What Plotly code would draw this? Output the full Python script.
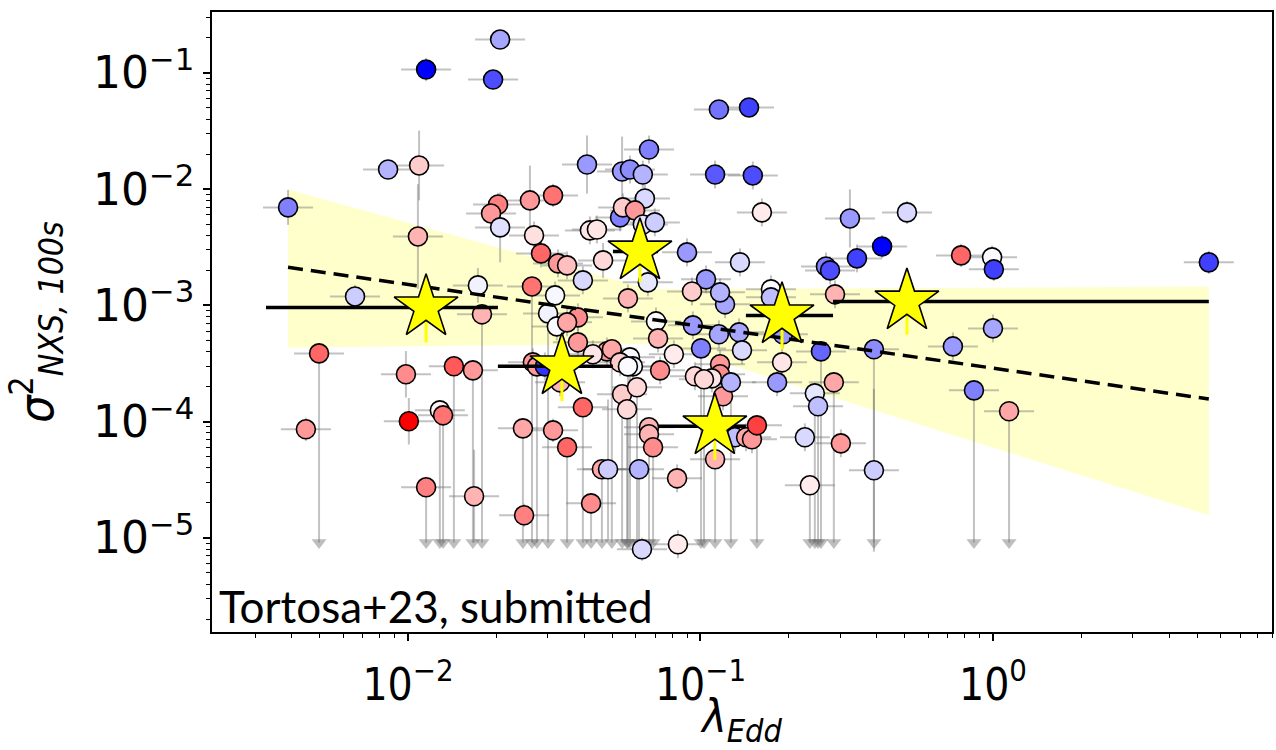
import numpy as np
import plotly.graph_objects as go

# ---- individual sources: log10(lambda_Edd), log10(sigma^2_NXS,100s) ----
log_edd = [
    -1.685, -1.938, -1.709, -2.068, -1.962, -2.410, -1.966, -1.692, -1.716, -1.685,
    -1.583, -1.504, -1.388, -1.569, -1.545, -1.487, -1.456, -1.402, -1.378, -1.354,
    -1.333, -1.268, -1.241, -1.197, -1.176, -1.190, -1.275, -1.265, -1.224, -1.197,
    -1.156, -1.761, -2.181, -1.576, -1.497, -1.248, -1.180, -1.521, -1.747, -1.419,
    -1.491, -1.456, -2.304, -2.349, -2.007, -1.997, -1.843, -1.778, -1.891, -1.880,
    -1.938, -1.774, -1.607, -1.504, -1.456, -1.603, -1.402, -1.337, -1.316, -1.210,
    -1.374, -1.200, -1.573, -1.559, -1.532, -1.480, -1.419, -1.320, -1.303, -1.368,
    -1.241, -1.231, -1.275, -1.268, -1.217, -1.251, -1.176, -1.176, -1.162, -1.248,
    -0.916, -0.933, -0.981, -1.029, -1.152, -1.026, -0.937, -0.868, -1.145, -0.998,
    -0.858, -1.091, -0.718, -0.721, -0.588, -0.407, -0.137, 0.000, -0.065, 0.055,
    -0.738, -0.544, -0.609, -0.598, -0.933, -0.933, -0.923, -0.961, -0.896, -1.019,
    -0.988, -1.138, -0.759, -0.759, -0.540, -0.950, -0.882, -0.844, -0.824, -0.807,
    -0.643, -0.520, -0.407, -0.626, -1.077, -1.080,
    -0.950, -0.821, -0.937, -0.834, -0.790, -0.489, -0.294, -0.379, -0.465, -0.571,
    -0.557, -1.046, -0.865, -0.109, -0.003, 0.003, 0.738,
]
log_nxs = [
    -0.713, -0.971, -1.057, -1.831, -1.796, -2.157, -2.407, -2.132, -2.209, -2.329,
    -2.097, -2.054, -1.788, -2.398, -2.553, -2.639, -2.656, -2.785, -2.355, -2.347,
    -2.613, -1.848, -1.831, -1.874, -1.659, -2.080, -2.243, -2.157, -2.183, -2.304,
    -2.286, -2.828, -2.923, -2.837, -2.914, -2.940, -2.802, -3.069, -3.077, -3.103,
    -3.181, -3.146, -3.413, -4.066, -3.593, -3.997, -3.524, -3.559, -3.903, -3.946,
    -4.565, -4.642, -4.058, -4.075, -4.221, -4.806, -3.877, -4.410, -4.410, -4.410,
    -4.703, -5.098, -3.490, -3.525, -3.525, -3.662, -3.318, -3.396, -3.378, -3.421,
    -3.447, -3.525, -3.490, -3.765, -3.705, -3.894, -4.049, -4.109, -4.221, -3.525,
    -2.991, -2.888, -2.776, -2.880, -3.138, -3.172, -3.249, -3.232, -3.284, -3.370,
    -3.387, -3.421, -3.249, -3.490, -3.396, -3.378, -3.353, -3.198, -3.731, -3.911,
    -3.662, -3.662, -3.757, -3.868, -3.507, -3.593, -3.782, -3.628, -3.662, -3.610,
    -3.636, -3.559, -2.862, -2.931, -2.905, -4.324, -4.135, -4.135, -4.152, -4.032,
    -4.135, -4.187, -4.419, -4.548, -5.055, -4.488,
    -1.874, -1.882, -1.315, -1.297, -2.200, -2.252, -2.200, -2.493, -2.596, -2.665,
    -2.699, -2.544, -2.630, -2.570, -2.587, -2.690, -2.630,
]
# colour-coding quantity (blue = -1, white = 0, red = +1)
colour = [
    -0.35, -1.00, -0.70, -0.30, 0.20, -0.50, 0.30, 0.50, 0.40, -0.12,
    0.40, 0.55, -0.40, 0.12, 0.60, 0.40, 0.25, -0.15, 0.10, 0.10,
    0.15, -0.40, -0.45, -0.30, -0.50, -0.15, -0.50, 0.20, 0.40, -0.10,
    -0.20, -0.05, -0.20, 0.55, -0.03, 0.30, -0.10, -0.05, 0.30, 0.45,
    -0.02, 0.35, 0.60, 0.40, 0.45, 1.00, 0.65, 0.40, 0.05, 0.55,
    0.50, 0.30, 0.35, 0.40, 0.60, 0.50, 0.60, 0.35, -0.20, -0.30,
    0.45, -0.15, 0.40, 0.40, -0.80, 0.30, 0.40, 0.40, 0.35, 0.10,
    -0.03, -0.03, 0.20, 0.20, 0.15, 0.15, 0.30, 0.30, 0.45, -0.02,
    -0.35, -0.30, -0.40, 0.20, -0.02, -0.40, -0.35, -0.35, 0.30, -0.50,
    -0.15, 0.08, -0.40, 0.10, -0.60, -0.45, -0.40, -0.35, -0.50, 0.35,
    -0.40, 0.35, -0.10, -0.25, 0.40, 0.45, 0.40, 0.10, -0.30, 0.15,
    0.15, 0.45, -0.02, -0.25, 0.30, 0.30, -0.25, 0.35, 0.40, 0.75,
    -0.15, 0.40, -0.20, 0.08, 0.08, 0.30,
    -0.65, -0.70, -0.55, -0.75, 0.08, -0.40, -0.15, -1.00, -0.75, -0.50,
    -0.70, -0.40, -0.15, 0.60, -0.02, -0.75, -0.75,
]
# symmetric uncertainty on log10(sigma^2), dex
nxs_err_dex = [
    0.06, 0.10, 0.05, 0.05, 0.30, 0.15, 0.45, 0.10, 0.10, 0.30,
    0.30, 0.10, 0.25, 0.12, 0.12, 0.12, 0.12, 0.12, 0.12, 0.12,
    0.15, 0.30, 0.12, 0.12, 0.12, 0.12, 0.12, 0.12, 0.12, 0.12,
    0.12, 0.15, 0.10, 0.10, 0.12, 0.12, 0.12, 0.10, 0.10, 0.12,
    0.12, 0.12, 0.10, 0.10, 0.20, 0.20, 0.10, 0.10, 0.10, 0.10,
    0.10, 0.40, 0.10, 0.10, 0.10, 0.10, 0.10, 0.10, 0.60, 0.10,
    0.10, 0.10, 0.12, 0.12, 0.12, 0.12, 0.12, 0.12, 0.12, 0.12,
    0.12, 0.12, 0.12, 0.12, 0.12, 0.12, 0.12, 0.12, 0.12, 0.12,
    0.12, 0.12, 0.12, 0.12, 0.12, 0.12, 0.12, 0.12, 0.12, 0.12,
    0.12, 0.12, 0.12, 0.12, 0.12, 0.12, 0.12, 0.12, 0.12, 0.12,
    0.12, 0.12, 0.12, 0.12, 0.12, 0.12, 0.12, 0.12, 0.12, 0.12,
    0.12, 0.12, 0.12, 0.12, 0.12, 0.12, 0.12, 0.12, 0.12, 0.12,
    0.12, 0.12, 0.70, 0.12, 0.12, 0.12,
    0.12, 0.12, 0.05, 0.05, 0.12, 0.25, 0.10, 0.10, 0.12, 0.12,
    0.12, 0.12, 0.12, 0.10, 0.10, 0.10, 0.10,
]
# 1 = upper limit (arrow down to the floor)
upper_limit = [
    0, 0, 0, 0, 0, 0, 0, 0, 0, 0,
    0, 0, 0, 0, 0, 0, 0, 0, 0, 0,
    0, 0, 0, 0, 0, 0, 0, 0, 0, 0,
    0, 0, 0, 1, 0, 0, 0, 1, 1, 0,
    0, 0, 1, 0, 0, 0, 1, 1, 1, 1,
    1, 0, 1, 0, 1, 0, 1, 1, 0, 1,
    1, 0, 0, 1, 0, 0, 0, 0, 1, 0,
    1, 0, 0, 1, 1, 1, 1, 0, 1, 1,
    0, 0, 0, 0, 0, 0, 0, 0, 0, 1,
    0, 0, 0, 0, 1, 1, 0, 0, 1, 1,
    0, 1, 1, 1, 0, 0, 0, 0, 1, 0,
    1, 0, 0, 0, 0, 1, 0, 0, 0, 1,
    0, 0, 0, 1, 0, 0,
    0, 0, 0, 0, 0, 0, 0, 0, 0, 0,
    0, 0, 0, 0, 0, 0, 0,
]

# ---- binned means ----
star_edd = [0.01153, 0.0336, 0.0621, 0.112, 0.190, 0.508]
star_nxs = [9.6e-4, 2.99e-4, 2.91e-3, 9.1e-5, 8.2e-4, 1.08e-3]
star_nxs_err = [4.8e-4, 1.49e-4, 1.33e-3, 4.4e-5, 4.0e-4, 5.2e-4]
bin_lo = [0.00327, 0.0203, 0.0502, 0.0716, 0.143, 0.284]
bin_hi = [0.0203, 0.0502, 0.0716, 0.143, 0.284, 5.47]

# ---- power-law fit and its uncertainty envelope ----
fit_slope = -0.36
fit_norm = -3.54          # log10 sigma^2 at lambda_Edd = 1
fit_edd = [0.00389, 5.47]
band_edd = [0.00389, 0.0673, 5.47, 5.47, 0.0741, 0.00389]
band_nxs = [9.93e-3, 1.374e-3, 1.456e-3, 1.563e-5, 4.68e-4, 4.32e-4]

LIMIT_FLOOR = 9.1e-6      # where upper-limit arrows end
X_ERR_DEX = 0.0855        # half-width of the lambda_Edd error bars

x = 10 ** np.array(log_edd)
y = 10 ** np.array(log_nxs)
e = np.array(nxs_err_dex)
ul = np.array(upper_limit, dtype=bool)

x_plus = x * (10 ** X_ERR_DEX - 1)
x_minus = x * (1 - 10 ** -X_ERR_DEX)
y_plus = np.where(ul, 0.0, y * (10 ** e - 1))
y_minus = np.where(ul, y - LIMIT_FLOOR, y * (1 - 10 ** -e))

ERR_GREY = "rgba(110,110,110,0.42)"
bwr = [[0.0, "rgb(0,0,255)"], [0.5, "rgb(255,255,255)"], [1.0, "rgb(255,0,0)"]]

fig = go.Figure()

fig.add_trace(go.Scatter(
    x=band_edd, y=band_nxs, mode="lines", fill="toself",
    fillcolor="rgba(255,255,0,0.2)", line=dict(width=0), hoverinfo="skip",
))

fig.add_trace(go.Scatter(
    x=x[ul], y=np.full(ul.sum(), LIMIT_FLOOR), mode="markers",
    marker=dict(symbol="triangle-down", size=13, color="rgba(110,110,110,0.45)", line=dict(width=0)),
    hoverinfo="skip",
))

fig.add_trace(go.Scatter(
    x=x, y=y, mode="markers",
    marker=dict(size=19, color=colour, colorscale=bwr, cmin=-1, cmax=1,
                line=dict(color="black", width=1.6)),
    error_x=dict(type="data", array=x_plus, arrayminus=x_minus, color=ERR_GREY, thickness=2, width=0),
    error_y=dict(type="data", array=y_plus, arrayminus=y_minus, color=ERR_GREY, thickness=2, width=0),
))

fit_nxs = 10 ** (fit_norm + fit_slope * np.log10(fit_edd))
fig.add_trace(go.Scatter(
    x=fit_edd, y=fit_nxs, mode="lines",
    line=dict(color="black", width=3.5, dash="15px,8px"),
))

se = np.array(star_edd)
fig.add_trace(go.Scatter(
    x=star_edd, y=star_nxs, mode="markers",
    marker=dict(symbol="star", size=48, color="#ffff00", line=dict(color="black", width=1.6)),
    error_x=dict(type="data", array=np.array(bin_hi) - se, arrayminus=se - np.array(bin_lo),
                 color="black", thickness=3.5, width=0),
    error_y=dict(type="data", array=star_nxs_err, color="#ffff00", thickness=3, width=0),
))

x_major = [0.01, 0.1, 1]
y_major = [1e-5, 1e-4, 1e-3, 1e-2, 1e-1]
x_minor = [m * 10.0 ** d for d in range(-3, 1) for m in range(2, 10)]
y_minor = [m * 10.0 ** d for d in range(-6, 0) for m in range(2, 10)]

axis_common = dict(
    type="log", showline=True, linecolor="black", linewidth=1.5, mirror=True,
    ticks="outside", ticklen=7, tickwidth=1.5, tickcolor="black",
    showgrid=False, zeroline=False, automargin=False,
)

fig.update_layout(
    width=1276, height=750,
    margin=dict(l=212, r=4, t=12, b=118),
    paper_bgcolor="white", plot_bgcolor="white",
    showlegend=False,
    xaxis=dict(
        **axis_common, range=[-2.670, 0.954],
        tickvals=x_major, ticktext=["10<sup>−2</sup>", "10<sup>−1</sup>", "10<sup>0</sup>"],
        tickfont=dict(family="DejaVu Sans Condensed, DejaVu Sans", size=44, color="black"),
        ticklabelstandoff=6,
        minor=dict(tickvals=x_minor, ticks="outside", ticklen=4, tickwidth=1, tickcolor="black", showgrid=False),
        title=dict(text="<i>λ</i><sub><i>Edd</i></sub>", standoff=12,
                   font=dict(family="DejaVu Sans Condensed, DejaVu Sans", size=46, color="black")),
    ),
    yaxis=dict(
        **axis_common, range=[-5.81, -0.476],
        tickvals=y_major, ticktext=["10<sup>−5</sup>", "10<sup>−4</sup>", "10<sup>−3</sup>", "10<sup>−2</sup>", "10<sup>−1</sup>"],
        tickfont=dict(family="DejaVu Sans", size=44, color="black"),
        minor=dict(tickvals=y_minor, ticks="outside", ticklen=4, tickwidth=1, tickcolor="black", showgrid=False),
        title=dict(text="<i>σ</i><sup>2</sup><sub><i>NXS, 100s</i></sub>", standoff=24,
                   font=dict(family="DejaVu Sans Condensed, DejaVu Sans", size=48, color="black")),
    ),
    annotations=[dict(
        text="Tortosa+23, submitted", xref="paper", yref="paper", x=0, y=0,
        xanchor="left", yanchor="bottom", xshift=5, yshift=-2, showarrow=False,
        font=dict(family="Lato", size=44, color="black"),
    )],
)

fig.write_html("out.html")
